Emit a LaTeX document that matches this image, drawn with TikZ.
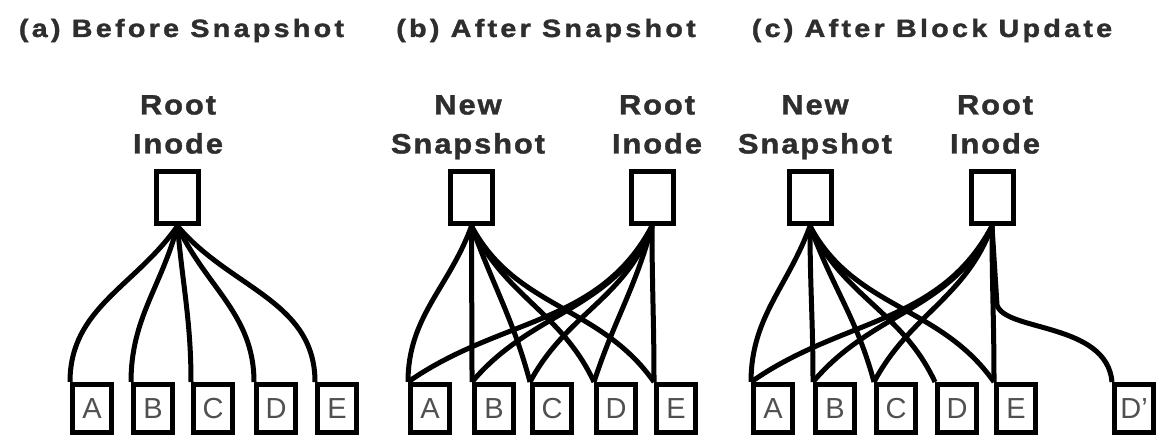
\documentclass[tikz,border=0pt]{standalone}
\usepackage{fontspec}
\setmainfont{Liberation Sans}
\newfontfamily\headfont[LetterSpace=13,FakeStretch=1.15,FakeBold=1.4]{Liberation Sans}
\newfontfamily\namefont[LetterSpace=7,FakeStretch=1.1,FakeBold=1.4]{Liberation Sans}
\usetikzlibrary{positioning}
\definecolor{ink}{HTML}{2E2E2E}
\definecolor{blockink}{HTML}{505050}

\begin{document}
\begin{tikzpicture}[
  x=1pt,y=1pt,
  inode/.style={draw,line width=5pt,minimum width=42pt,minimum height=52pt,inner sep=0pt},
  block/.style={draw,line width=5pt,minimum width=39pt,minimum height=48pt,inner sep=0pt,font=\fontsize{29}{29}\selectfont,text=blockink},
  lbl/.style={font=\fontsize{28}{39}\selectfont\namefont\bfseries,text=ink,align=center,anchor=north,inner sep=0pt},
  title/.style={font=\fontsize{25}{25}\selectfont\headfont\bfseries,text=ink,anchor=base,inner sep=0pt},
  ptr/.style={line width=5pt},
]
  \clip (0,0) rectangle (1156,437);

  % (a) before snapshot
  \node[title] (ta) at (181.5,400) {(a) Before Snapshot};
  \node[lbl] (la) at (178,342) {Root\\Inode};
  \node[inode] (aroot) at (177.5,239.5) {};
  \node[block] (aA) at (92,28.5) {A};
  \node[block] (aB) at (153,28.5) {B};
  \node[block] (aC) at (213,28.5) {C};
  \node[block] (aD) at (276,28.5) {D};
  \node[block] (aE) at (337,28.5) {E};

  \draw[ptr] (aroot.south) to[out=-125,in=90] (aA.north west);
  \draw[ptr] (aroot.south) to[out=-105,in=90] (aB.north west);
  \draw[ptr] (aroot.south) to[out=-85,in=90] (aC.north west);
  \draw[ptr] (aroot.south) to[out=-65,in=90] (aD.north west);
  \draw[ptr] (aroot.south) to[out=-50,in=90] (aE.north west);

  % (b) after snapshot
  \node[title] (tb) at (546,400) {(b) After Snapshot};
  \node[lbl] (lbs) at (468,342) {New\\Snapshot};
  \node[lbl] (lbr) at (657,342) {Root\\Inode};
  \node[inode] (bsnap) at (471.5,239.5) {};
  \node[inode] (broot) at (652,239.5) {};
  \node[block] (bA) at (430,28.5) {A};
  \node[block] (bB) at (494,28.5) {B};
  \node[block] (bC) at (552,28.5) {C};
  \node[block] (bD) at (616,28.5) {D};
  \node[block] (bE) at (676,28.5) {E};

  \draw[ptr] (bsnap.south) to[out=-110,in=90] (bA.north west);
  \draw[ptr] (bsnap.south) to[out=-90,in=90] (bB.north west);
  \draw[ptr] (bsnap.south) to[out=-70,in=105] (bC.north west);
  \draw[ptr] (bsnap.south) to[out=-65,in=115] (bD.north west);
  \draw[ptr] (bsnap.south) to[out=-62,in=125] (bE.north west);
  \draw[ptr] (broot.south) to[out=-118,in=35] (bA.north west);
  \draw[ptr] (broot.south) to[out=-115,in=50] (bB.north west);
  \draw[ptr] (broot.south) to[out=-110,in=62] (bC.north west);
  \draw[ptr] (broot.south) to[out=-105,in=72] (bD.north west);
  \draw[ptr] (broot.south) to[out=-90,in=90] (bE.north west);

  % (c) after block update
  \node[title] (tc) at (932,400) {(c) After Block Update};
  \node[lbl] (lcs) at (815,342) {New\\Snapshot};
  \node[lbl] (lcr) at (995,342) {Root\\Inode};
  \node[inode] (csnap) at (810,239.5) {};
  \node[inode] (croot) at (992,239.5) {};
  \node[block] (cA) at (773,28.5) {A};
  \node[block] (cB) at (835,28.5) {B};
  \node[block] (cC) at (896,28.5) {C};
  \node[block] (cD) at (957,28.5) {D};
  \node[block] (cE) at (1016,28.5) {E};
  \node[block] (cDp) at (1134,28.5) {D'};
  \coordinate (bend) at (997,132);

  \draw[ptr] (csnap.south) to[out=-110,in=90] (cA.north west);
  \draw[ptr] (csnap.south) to[out=-90,in=90] (cB.north west);
  \draw[ptr] (csnap.south) to[out=-70,in=105] (cC.north west);
  \draw[ptr] (csnap.south) to[out=-65,in=115] (cD.north west);
  \draw[ptr] (csnap.south) to[out=-62,in=125] (cE.north west);
  \draw[ptr] (croot.south) to[out=-118,in=35] (cA.north west);
  \draw[ptr] (croot.south) to[out=-115,in=50] (cB.north west);
  \draw[ptr] (croot.south) to[out=-110,in=62] (cC.north west);
  \draw[ptr] (croot.south) to[out=-90,in=90] (cE.north west);
  \draw[ptr] (croot.south) -- (bend) to[out=-73,in=95,out distance=28,in distance=60] (cDp.north west);
\end{tikzpicture}
\end{document}
